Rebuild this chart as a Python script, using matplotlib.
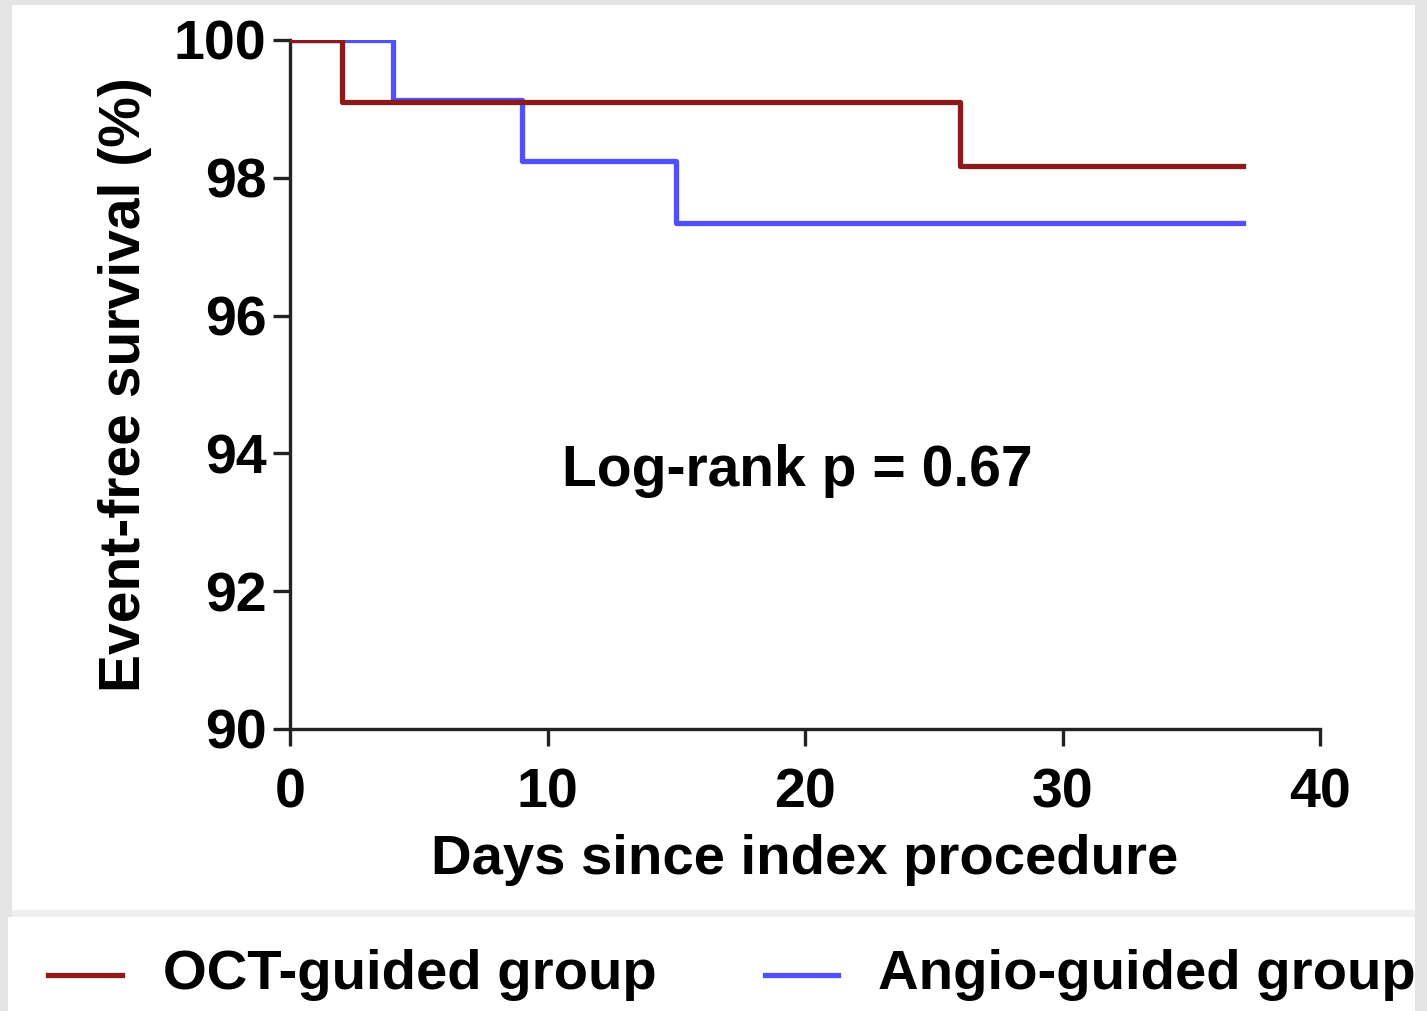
import matplotlib
matplotlib.use("Agg")
import matplotlib.pyplot as plt
from matplotlib.patches import Rectangle
from matplotlib.lines import Line2D

# Kaplan-Meier step data
oct_days = [0, 2, 26, 37]
oct_surv = [100, 99.1, 98.17, 98.17]
angio_days = [0, 4, 9, 15, 37]
angio_surv = [100, 99.13, 98.25, 97.35, 97.35]

x_ticks = [0, 10, 20, 30, 40]
y_ticks = [90, 92, 94, 96, 98, 100]

oct_color = "#8b1a1a"
angio_color = "#5050ff"

plt.rcParams['font.family'] = ['Liberation Sans', 'DejaVu Sans']
plt.rcParams['font.weight'] = 'bold'

W, H = 1427, 1011
fig = plt.figure(figsize=(W / 100, H / 100), dpi=100, facecolor="#e4e4e4")

# white panels (figure card + legend strip)
fig.add_artist(Rectangle((12 / W, 1 - 910 / H), (1415 - 12) / W, (910 - 5) / H,
                         transform=fig.transFigure, facecolor="white", edgecolor="none", zorder=0))
fig.add_artist(Rectangle((8 / W, 0), (1415 - 8) / W, (1011 - 917) / H,
                         transform=fig.transFigure, facecolor="white", edgecolor="none", zorder=0))
fig.add_artist(Rectangle((12 / W, 1 - 917 / H), (1415 - 12) / W, 7 / H,
                         transform=fig.transFigure, facecolor="#efefef", edgecolor="none", zorder=0))

ax = fig.add_axes([290 / W, 1 - 729 / H, (1320 - 290) / W, (729 - 40) / H])
ax.patch.set_alpha(0)

ax.step(oct_days, oct_surv, where="post", color=oct_color, lw=3.8, label="OCT-guided group", zorder=3)
ax.step(angio_days, angio_surv, where="post", color=angio_color, lw=3.8, label="Angio-guided group", zorder=2)

ax.set_xlim(0, 40)
ax.set_ylim(90, 100)
ax.set_xticks(x_ticks)
ax.set_yticks(y_ticks)
for s in ["top", "right"]:
    ax.spines[s].set_visible(False)
for s in ["left", "bottom"]:
    ax.spines[s].set_linewidth(2.4)
    ax.spines[s].set_color("#222222")
ax.tick_params(axis="both", direction="out", length=12, width=2.4, color="#222222",
               labelsize=40, pad=5)
ax.tick_params(axis="x", pad=16)
for lab in ax.get_xticklabels() + ax.get_yticklabels():
    lab.set_fontweight("bold")

ax.set_xlabel("Days since index procedure", fontsize=40.5, fontweight="bold", labelpad=10)
ax.set_ylabel("Event-free survival (%)", fontsize=41, fontweight="bold", labelpad=16)

ax.text(19.7, 93.75, "Log-rank p = 0.67", fontsize=41, fontweight="bold", ha="center", va="center")

# legend strip laid out by hand to match the original spacing
leg_y = 1 - 975 / H
for (x0, x1, tx), col, lab in zip([(48, 122, 163), (765, 838, 878)],
                                  [oct_color, angio_color],
                                  ["OCT-guided group", "Angio-guided group"]):
    fig.add_artist(Line2D([x0 / W, x1 / W], [leg_y, leg_y], transform=fig.transFigure,
                          color=col, lw=3.8))
    fig.text(tx / W, leg_y, lab, fontsize=40.5, fontweight="bold", ha="left", va="center")

fig.savefig("out.png", dpi=100, facecolor=fig.get_facecolor())
